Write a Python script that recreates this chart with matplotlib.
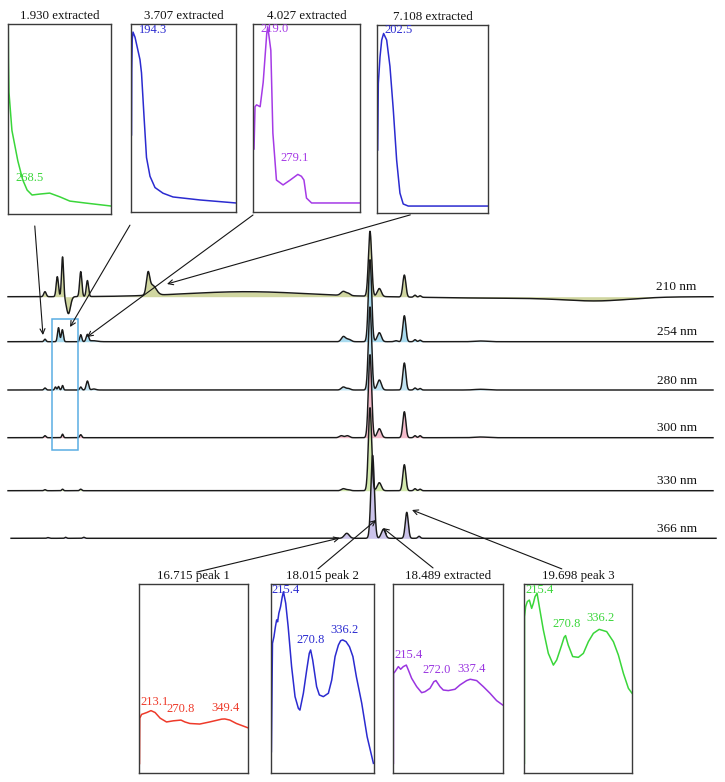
import numpy as np
import matplotlib
matplotlib.use("Agg")
import matplotlib.pyplot as plt
from matplotlib.patches import Rectangle, ConnectionPatch

plt.rcParams['font.family'] = ['Liberation Serif', 'DejaVu Serif']

# ---------------- data: chromatogram peaks (retention time [min], height, width [min]) ----------------
wavelength_labels = ["210 nm", "254 nm", "280 nm", "300 nm", "330 nm", "366 nm"]

peaks_210 = [(1.93, 5, 0.06), (2.54, 20, 0.055), (2.80, 40, 0.05), (3.09, -17, 0.1),
             (3.70, 25, 0.055), (4.03, 16, 0.055), (7.03, 19, 0.08), (7.25, 10, 0.18),
             (11.9, 5, 3.0), (16.7, 4, 0.12), (16.95, 2, 0.1), (18.02, 65, 0.08),
             (18.48, 8, 0.1), (19.72, 22, 0.075), (20.25, 2, 0.06), (20.5, 1.5, 0.06),
             (25.0, -1.5, 3.5), (29.3, -3.5, 1.6)]
peaks_254 = [(1.93, 2.5, 0.05), (2.60, 14, 0.05), (2.79, 12, 0.05), (3.70, 7, 0.05),
             (4.03, 7, 0.06), (4.3, 1, 0.2), (16.7, 5, 0.1), (16.95, 2.5, 0.12),
             (18.02, 82, 0.08), (18.48, 9, 0.1), (19.3, 1, 0.08), (19.72, 26, 0.075),
             (20.25, 2, 0.06), (20.5, 1.5, 0.06), (23.5, 0.7, 0.3)]
peaks_280 = [(1.93, 2, 0.05), (2.45, 3, 0.04), (2.60, 3.5, 0.04), (2.80, 4.5, 0.04),
             (3.70, 3, 0.05), (4.03, 9, 0.06), (4.35, 1, 0.1), (16.7, 3, 0.1),
             (16.95, 1.5, 0.1), (18.02, 83, 0.08), (18.48, 10, 0.1), (19.72, 27, 0.075),
             (20.25, 2, 0.06), (20.5, 1.5, 0.06), (23.5, 0.7, 0.3)]
peaks_300 = [(1.93, 2, 0.05), (2.80, 3.5, 0.04), (3.70, 3, 0.05), (16.6, 2, 0.1),
             (16.9, 2, 0.1), (18.02, 83, 0.08), (18.48, 9, 0.1), (19.72, 26, 0.075),
             (20.25, 2, 0.06), (20.5, 2, 0.06), (23.5, 0.7, 0.3)]
peaks_330 = [(1.93, 1, 0.05), (2.80, 1.5, 0.04), (3.70, 1.5, 0.05), (16.7, 2, 0.1),
             (16.95, 1, 0.1), (18.02, 83, 0.08), (18.48, 8, 0.1), (19.72, 26, 0.075),
             (20.25, 2, 0.06), (20.5, 1.5, 0.06)]
peaks_366 = [(1.93, 0.7, 0.05), (2.80, 1, 0.04), (3.70, 1, 0.05), (16.72, 5, 0.12),
             (18.0, 83, 0.085), (18.53, 9, 0.1), (19.69, 26, 0.075), (20.3, 2, 0.06)]
all_peaks = [peaks_210, peaks_254, peaks_280, peaks_300, peaks_330, peaks_366]

# ---------------- data: UV spectra (wavelength [nm], relative absorbance) ----------------
spec_1930_wl = [190.5, 191, 192, 198, 210, 220, 229, 239, 255, 275, 296, 316, 347, 400]
spec_1930_ab = [1.0, 0.80, 0.64, 0.44, 0.28, 0.18, 0.126, 0.10, 0.105, 0.11, 0.09, 0.068, 0.058, 0.042]

spec_3707_wl = [191, 191.5, 192.5, 194, 198, 208, 211, 216, 221, 228, 238, 254, 274, 328, 400]
spec_3707_ab = [0.41, 0.75, 0.92, 0.957, 0.93, 0.81, 0.74, 0.51, 0.29, 0.19, 0.13, 0.10, 0.08, 0.064, 0.048]

spec_4027_wl = [192, 194, 197, 204, 210, 217, 219, 225, 229, 236, 249, 263, 278, 285, 290, 295, 305, 400]
spec_4027_ab = [0.335, 0.56, 0.57, 0.56, 0.69, 0.95, 0.985, 0.86, 0.42, 0.17, 0.144, 0.17, 0.20, 0.19, 0.17, 0.074, 0.048, 0.048]

spec_7108_wl = [191.3, 192.5, 195.7, 198.9, 202.5, 208.3, 214.5, 220.8, 227.2, 233.4, 239.6, 249.1, 400]
spec_7108_ab = [0.335, 0.69, 0.83, 0.92, 0.955, 0.92, 0.78, 0.55, 0.28, 0.106, 0.048, 0.037, 0.037]

spec_p1_wl = [191, 191.5, 195, 205, 213.1, 221, 230.8, 243, 256, 270.8, 278.5, 288, 307, 326, 349.4, 355.4, 365, 377.6, 399]
spec_p1_ab = [0.05, 0.29, 0.31, 0.32, 0.33, 0.32, 0.29, 0.27, 0.276, 0.28, 0.27, 0.262, 0.259, 0.27, 0.285, 0.286, 0.28, 0.262, 0.24]

spec_p2_wl = [190.8, 193, 196, 199, 201.5, 203.5, 206, 209.5, 213, 215.4, 220, 225, 232, 239, 245.8, 249,
              256, 262.8, 268, 270.8, 275, 283, 288.6, 296.7, 307, 313.8, 320.6, 327.4, 332, 336.2, 343,
              350, 357, 364, 375, 386, 398.8]
spec_p2_ab = [0.113, 0.686, 0.721, 0.774, 0.81, 0.80, 0.845, 0.88, 0.933, 0.959, 0.898, 0.774, 0.563, 0.404,
              0.342, 0.333, 0.422, 0.545, 0.633, 0.651, 0.598, 0.457, 0.413, 0.404, 0.422, 0.492, 0.616,
              0.677, 0.70, 0.704, 0.695, 0.668, 0.616, 0.51, 0.369, 0.192, 0.051]

spec_ex_wl = [190.8, 191.0, 193.8, 200.2, 204.6, 209.7, 215.4, 219.3, 225.6, 235.2, 244.7, 251, 260.6, 268,
              272.0, 279.7, 286, 295.6, 308.3, 317.9, 330.6, 337.4, 349.7, 362.4, 375.1, 387.8, 399.3]
spec_ex_ab = [0.051, 0.527, 0.536, 0.563, 0.549, 0.563, 0.571, 0.545, 0.501, 0.457, 0.425, 0.43, 0.448,
              0.483, 0.489, 0.457, 0.439, 0.436, 0.443, 0.466, 0.489, 0.496, 0.489, 0.457, 0.422, 0.383, 0.36]

spec_p3_wl = [190.8, 191.0, 193.2, 196.5, 200.4, 204.9, 208.2, 211.4, 215.4, 219.8, 227.6, 237.3, 247.1,
              253.6, 263.3, 268, 270.8, 276, 284.7, 295.7, 305.4, 315.2, 324.9, 336.2, 350.8, 363.8,
              373.5, 383.3, 393, 400]
spec_p3_ab = [0.051, 0.827, 0.88, 0.907, 0.915, 0.871, 0.898, 0.933, 0.951, 0.88, 0.757, 0.633, 0.571,
              0.598, 0.677, 0.718, 0.727, 0.677, 0.616, 0.612, 0.633, 0.695, 0.739, 0.76, 0.748, 0.695,
              0.624, 0.527, 0.448, 0.422]

# ---------------- layout / style ----------------
W, H = 725, 782
fig = plt.figure(figsize=(W / 100, H / 100), dpi=100)

def px_rect(x0, y0, x1, y1):
    return [x0 / W, 1 - y1 / H, (x1 - x0) / W, (y1 - y0) / H]

px_per_min = 20.2
main = fig.add_axes(px_rect(6, 225, 725, 560))
main.set_xlim(0, 719 / px_per_min)
main.set_ylim(0, 335)
main.axis('off')

trace_offsets = [263.3, 218.3, 170.0, 122.3, 69.3, 21.7]
trace_shift = [0, 0, 0, 0, 0, 0.15]
fill_colors = ["#d0d6a0", "#a9dbef", "#c0e4f3", "#f5bccb", "#d3eaae", "#cbc3ea"]

t = np.linspace(0.1, 35.0, 6000)
curves = []
for peaks, off, sh in zip(all_peaks, trace_offsets, trace_shift):
    y = np.zeros_like(t)
    for t0, h, s in peaks:
        y += h * np.exp(-(t - t0) ** 2 / (2 * s ** 2))
    curves.append((t + sh, off + y, off))

for (tt, yy, off), col in zip(curves, fill_colors):
    main.fill_between(tt, off, yy, color=col, lw=0, zorder=1)
for (tt, yy, off) in curves:
    main.plot(tt, yy, color="#1a1a1a", lw=1.05, zorder=3)

for lab, off in zip(wavelength_labels, trace_offsets):
    main.text(34.2, off + 9.5, lab, ha='right', va='center', fontsize=9.5, color='#111')

main.add_patch(Rectangle((2.28, 110), 3.56 - 2.28, 241 - 110, fill=False,
                         edgecolor="#5aaee3", lw=1.1, zorder=4))

# ---------------- inset spectra ----------------
insets = [
    ("1.930 extracted", (8, 24, 111, 214), spec_1930_wl, spec_1930_ab, "#3ad63a",
     [("268.5", 204.3, 0.19)], (0.26, -0.063), (1.83, 225)),
    ("3.707 extracted", (131, 24, 236, 212), spec_3707_wl, spec_3707_ab, "#2b2bd0",
     [("194.3", 206, 0.968)], (-0.01, -0.07), (3.17, 233)),
    ("4.027 extracted", (253, 24, 360, 212), spec_4027_wl, spec_4027_ab, "#a53ae6",
     [("219.0", 203.7, 0.973), ("279.1", 243, 0.287)], (0.0, -0.016), (4.01, 223)),
    ("7.108 extracted", (377, 25, 488, 213), spec_7108_wl, spec_7108_ab, "#2b2bd0",
     [("202.5", 203.2, 0.973)], (0.3, -0.01), (7.97, 276)),
    ("16.715 peak 1", (139, 584, 248, 773), spec_p1_wl, spec_p1_ab, "#ee3a2a",
     [("213.1", 192, 0.377), ("270.8", 243.4, 0.339), ("349.4", 328.7, 0.344)], (0.53, 1.063), (16.53, 22)),
    ("18.015 peak 2", (271, 584, 374, 773), spec_p2_wl, spec_p2_ab, "#2b2bd0",
     [("215.4", 191.4, 0.968), ("270.8", 241, 0.704), ("336.2", 310.3, 0.757)], (0.456, 1.08), (18.32, 40)),
    ("18.489 extracted", (393, 584, 503, 773), spec_ex_wl, spec_ex_ab, "#9a35e0",
     [("215.4", 191.9, 0.624), ("272.0", 246.7, 0.545), ("337.4", 313.5, 0.55)], (0.364, 1.085), (18.66, 32)),
    ("19.698 peak 3", (524, 584, 632, 773), spec_p3_wl, spec_p3_ab, "#3ad63a",
     [("215.4", 191.9, 0.968), ("270.8", 245.8, 0.788), ("336.2", 311.9, 0.82)], (0.35, 1.08), (20.1, 50)),
]

for title, box, wl, ab, col, labels, start, target in insets:
    ax = fig.add_axes(px_rect(*box))
    ax.plot(wl, ab, color=col, lw=1.1)
    ax.set_xlim(190, 400)
    ax.set_ylim(0, 1)
    ax.set_xticks([])
    ax.set_yticks([])
    for sp in ax.spines.values():
        sp.set_color("#3a3a3a")
        sp.set_linewidth(1.0)
    ax.set_title(title, fontsize=9.3, pad=3.5, color='#111')
    for txt, lx, ly in labels:
        ax.text(lx, ly, txt, color=col, fontsize=9, ha='left', va='center')
    con = ConnectionPatch(xyA=start, coordsA=ax.transAxes, xyB=target, coordsB=main.transData,
                          arrowstyle="->", mutation_scale=9, lw=0.8, color="#151515",
                          shrinkA=0, shrinkB=0)
    fig.add_artist(con)

fig.savefig("out.png", dpi=100)
